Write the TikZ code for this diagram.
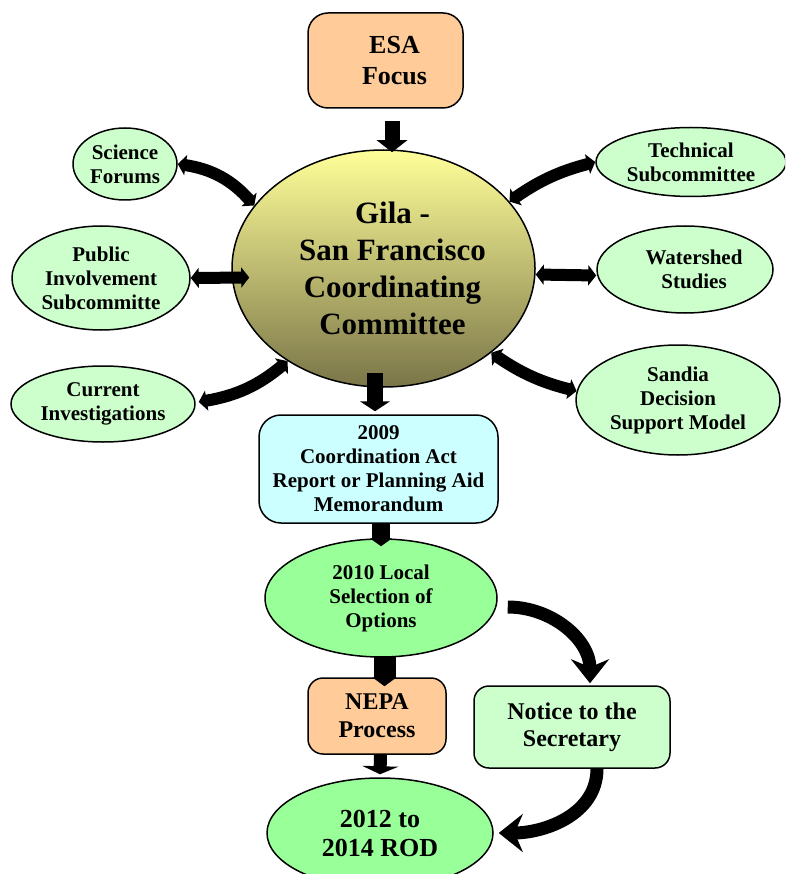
\documentclass[tikz,border=0pt]{standalone}
\usepackage{fontspec}
\setmainfont{Liberation Serif}
\usetikzlibrary{arrows.meta,shapes.geometric}
\definecolor{satgreen}{HTML}{CCFFCC}
\definecolor{optgreen}{HTML}{99FF99}
\definecolor{peach}{HTML}{FFCC99}
\definecolor{skycyan}{HTML}{CCFFFF}
\definecolor{gsftop}{HTML}{FFFF99}
\definecolor{gsfbottom}{HTML}{7A7548}
\newcommand{\nudge}{\hspace*{18pt}}
\tikzset{
	sat/.style={ellipse,draw,line width=1.5pt,fill=satgreen,inner sep=0pt,align=center,font=\fontsize{21}{24}\selectfont\bfseries},
	oval/.style={ellipse,draw,line width=1.5pt,fill=optgreen,inner sep=0pt,align=center},
	card/.style={rectangle,draw,line width=1.5pt,inner sep=0pt,align=center},
	blockarrow/.style={line width=15pt,-{Triangle[length=12pt,width=30pt]}},
	dblarrow/.style={line width=12pt,{Triangle[length=8pt,width=20pt]}-{Triangle[length=8pt,width=20pt]}},
	bendarrow/.style={line width=13pt,-{Stealth[length=24pt,width=38pt,inset=8pt]}}
}

\begin{document}
\begin{tikzpicture}[line join=round,x=1pt,y=1pt]
	\useasboundingbox (0,0) rectangle (785,-874);
	\clip (0,0) rectangle (785,-874);
	%%%%%%%%%%%%%%% N O D E S %%%%%%%%%%%%%%%%
	%top
	\node[card,fill=peach,minimum width=155pt,minimum height=95pt,rounded corners=20pt,font=\fontsize{26}{31}\selectfont\bfseries] (esa) at (385.5,-60.5) {\nudge ESA\\\nudge Focus};
	%committee
	\node[ellipse,draw,line width=1.5pt,top color=gsftop,bottom color=gsfbottom,inner sep=0pt,align=center,minimum width=303pt,minimum height=237pt,font=\fontsize{31}{37}\selectfont\bfseries] (gsf) at (383.5,-268.5) {\nudge Gila -\\\nudge San Francisco\\\nudge Coordinating\\\nudge Committee};
	%left
	\node[sat,minimum width=104pt,minimum height=72pt] (sci) at (125,-164) {Science\\Forums};
	\node[sat,minimum width=178pt,minimum height=104pt] (pub) at (101,-278) {Public\\Involvement\\Subcommitte};
	\node[sat,minimum width=184pt,minimum height=76pt] (cur) at (103,-404) {Current\\Investigations};
	%right
	\node[sat,minimum width=190pt,minimum height=69pt] (tech) at (691,-162) {Technical\\Subcommittee};
	\node[sat,minimum width=176pt,minimum height=87pt] (wat) at (685,-269.5) {\nudge Watershed\\\nudge Studies};
	\node[sat,minimum width=204pt,minimum height=110pt] (san) at (678,-400) {Sandia\\Decision\\Support Model};
	%steps
	\node[card,fill=skycyan,minimum width=239pt,minimum height=108pt,rounded corners=22pt,font=\fontsize{21}{24}\selectfont\bfseries] (car) at (378.5,-469) {2009\\Coordination Act\\Report or Planning Aid\\Memorandum};
	\node[oval,minimum width=232pt,minimum height=118pt,font=\fontsize{21}{24}\selectfont\bfseries] (sel) at (381,-598) {2010 Local\\Selection of\\Options};
	\node[card,fill=peach,minimum width=138pt,minimum height=76pt,rounded corners=15pt,font=\fontsize{24}{28}\selectfont\bfseries] (nepa) at (377,-716) {NEPA\\Process};
	\node[card,fill=satgreen,minimum width=196pt,minimum height=82pt,rounded corners=15pt,font=\fontsize{24}{27}\selectfont\bfseries] (note) at (572,-727) {Notice to the\\Secretary};
	\node[oval,minimum width=226pt,minimum height=110pt,font=\fontsize{26}{29}\selectfont\bfseries] (rod) at (380,-833) {2012 to\\2014 ROD};
	%%%%%%%%%%%%%%% A R R O W S %%%%%%%%%%%%%%%%
	%down the middle
	\draw[blockarrow] ([xshift=6.5pt,yshift=-12pt]esa.south) -- ([xshift=8.5pt,yshift=-3pt]gsf.north);
	\draw[blockarrow,line width=16pt,-{Triangle[length=10pt,width=30pt]}] ([xshift=-8.5pt,yshift=15pt]gsf.south) -- ([xshift=-3.5pt,yshift=3pt]car.north);
	\draw[blockarrow,line width=18pt,-{Triangle[length=8pt,width=22pt]}] ([xshift=2.5pt]car.south) -- ([yshift=-8pt]sel.north);
	\draw[blockarrow,line width=22pt,-{Triangle[length=9pt,width=24pt]}] ([xshift=3.5pt,yshift=2pt]sel.south) -- ([xshift=7.5pt,yshift=-9pt]nepa.north);
	\draw[blockarrow,line width=13pt,-{Triangle[length=8pt,width=36pt]}] ([xshift=3.5pt]nepa.south) -- ([yshift=3pt]rod.north);
	%both ways
	\draw[dblarrow] (sci.east) to[bend left=20] (gsf.154);
	\draw[dblarrow] (pub.east) -- ([xshift=18pt,yshift=-9pt]gsf.west);
	\draw[dblarrow] ([xshift=3pt,yshift=2pt]cur.east) to[bend right=15] (gsf.224);
	\draw[dblarrow] (gsf.28) to[bend left=10] (tech.west);
	\draw[dblarrow] ([yshift=-6pt]gsf.east) -- ([yshift=-6pt]wat.west);
	\draw[dblarrow] (gsf.322) to[bend right=10] (san.175);
	%notice
	\draw[bendarrow] ([xshift=10pt,yshift=-9pt]sel.east) to[out=0,in=90] ([xshift=18pt,yshift=2pt]note.north);
	\draw[bendarrow] ([xshift=25pt]note.south) to[out=-90,in=0] ([xshift=5pt]rod.east);
\end{tikzpicture}
\end{document}
